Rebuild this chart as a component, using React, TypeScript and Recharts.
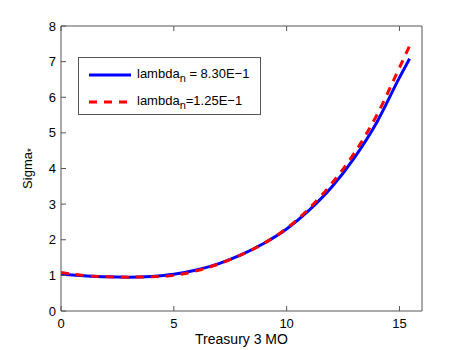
import React from 'react';
import { LineChart, Line, XAxis, YAxis, Legend } from 'recharts';

const treasury = [0, 1, 2, 3, 4, 5, 6, 7, 8, 9, 10, 11, 12, 13, 14, 15, 15.45];
const sigmaLambdaHigh = [1.03, 0.99, 0.96, 0.95, 0.97, 1.03, 1.15, 1.33, 1.58, 1.9, 2.3, 2.83, 3.48, 4.3, 5.3, 6.55, 7.08];
const sigmaLambdaLow = [1.08, 1.0, 0.96, 0.95, 0.96, 1.0, 1.13, 1.32, 1.58, 1.9, 2.32, 2.88, 3.58, 4.43, 5.5, 6.83, 7.44];
const xTicks = [0, 5, 10, 15];
const yTicks = [0, 1, 2, 3, 4, 5, 6, 7, 8];
const legendLabels = [
  { base: 'lambda', sub: 'n', rest: ' = 8.30E\u22121', color: '#0000ff', dash: undefined },
  { base: 'lambda', sub: 'n', rest: '=1.25E\u22121', color: '#ff0000', dash: '8 7' },
];

const data = treasury.map((x, i) => ({ x, high: sigmaLambdaHigh[i], low: sigmaLambdaLow[i] }));

const FONT = '"Liberation Sans", Arial, Helvetica, sans-serif';
const AXIS = '#555555';
const tickStyle = { fill: '#000', fontSize: 13, fontFamily: FONT };

const LegendBox = () => (
  <div style={{
    position: 'absolute', left: 78, top: 57, width: 181, height: 56,
    border: `1px solid ${AXIS}`, background: '#fff', fontFamily: FONT, fontSize: 13,
  }}>
    {legendLabels.map((l, i) => (
      <div key={i} style={{ position: 'absolute', left: 9, top: i === 0 ? 8 : 35, height: 18, display: 'flex', alignItems: 'center', whiteSpace: 'nowrap' }}>
        <svg width={44} height={6} style={{ marginRight: 5 }}>
          <line x1={1} y1={3} x2={43} y2={3} stroke={l.color} strokeWidth={3} strokeDasharray={l.dash} />
        </svg>
        <span>{l.base}<sub style={{ fontSize: 11, verticalAlign: -4 }}>{l.sub}</sub>{l.rest}</span>
      </div>
    ))}
  </div>
);

const YLabel = (props: any) => {
  const vb = props.viewBox || { x: 0, y: 26, width: 61, height: 285 };
  const cx = vb.x + 32;
  const cy = vb.y + vb.height / 2;
  return (
    <text x={cx} y={cy} transform={`rotate(-90 ${cx} ${cy})`} textAnchor="middle" fontFamily={FONT} fontSize={13} fill="#000">
      Sigma<tspan dy={3} fontSize={10}>*</tspan>
    </text>
  );
};

const XLabel = (props: any) => {
  const vb = props.viewBox || { x: 61, y: 311, width: 361, height: 39 };
  return (
    <text x={vb.x + vb.width / 2} y={vb.y + 33} textAnchor="middle" fontFamily={FONT} fontSize={14} fill="#000">
      Treasury 3 MO
    </text>
  );
};

export default function App() {
  return (
    <div style={{ position: 'absolute', left: 0, top: 0, width: 467, height: 350, background: '#fff' }}>
      <LineChart width={467} height={350} data={data} margin={{ top: 0, right: 0, left: 0, bottom: 0 }}>
        <XAxis xAxisId="b" dataKey="x" type="number" domain={[0, 16]} ticks={xTicks} allowDataOverflow
          height={39} stroke={AXIS} tickSize={-5} tickMargin={13} tick={tickStyle} tickLine={{ stroke: AXIS }}
          label={<XLabel />} />
        <XAxis xAxisId="t" dataKey="x" type="number" orientation="top" domain={[0, 16]} ticks={xTicks}
          height={26} stroke={AXIS} tickSize={-5} tickFormatter={() => ''} />
        <YAxis yAxisId="l" type="number" domain={[0, 8]} ticks={yTicks} width={61} stroke={AXIS}
          tickSize={-5} tickMargin={10} tick={tickStyle} label={<YLabel />} />
        <YAxis yAxisId="r" type="number" orientation="right" domain={[0, 8]} ticks={yTicks} width={45}
          stroke={AXIS} tickSize={-5} tickFormatter={() => ''} />
        <Line xAxisId="b" yAxisId="l" type="monotone" dataKey="high" stroke="#0000ff" strokeWidth={3}
          dot={false} isAnimationActive={false} />
        <Line xAxisId="b" yAxisId="l" type="monotone" dataKey="low" stroke="#ff0000" strokeWidth={3}
          strokeDasharray="8 7" dot={false} isAnimationActive={false} />
        <Legend content={() => <LegendBox />} wrapperStyle={{ left: 0, top: 0, width: 0, height: 0 }} />
      </LineChart>
    </div>
  );
}
